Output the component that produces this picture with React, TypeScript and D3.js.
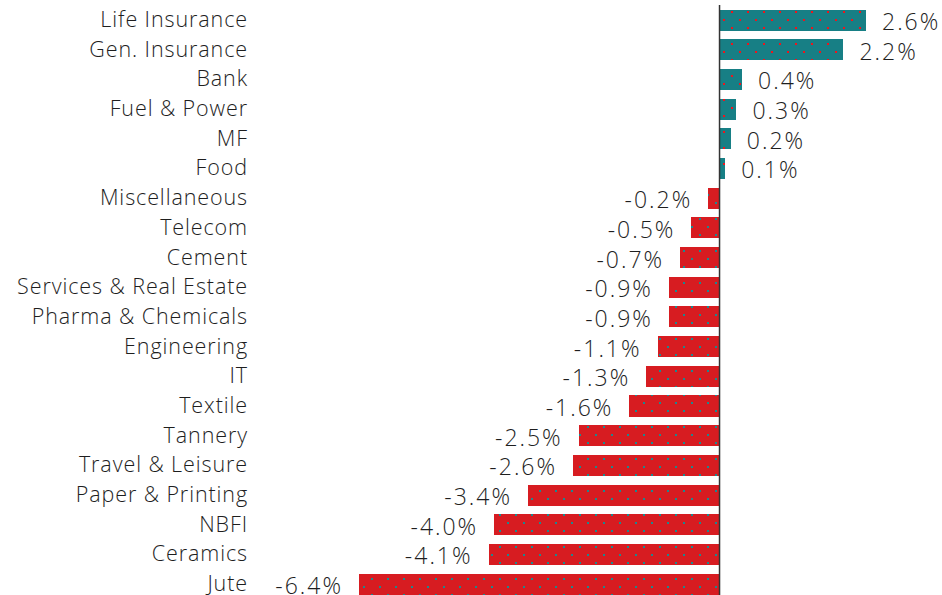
import React from "react";
import * as d3 from "d3";

const categories = [
  "Life Insurance", "Gen. Insurance", "Bank", "Fuel & Power", "MF", "Food",
  "Miscellaneous", "Telecom", "Cement", "Services & Real Estate", "Pharma & Chemicals",
  "Engineering", "IT", "Textile", "Tannery", "Travel & Leisure", "Paper & Printing",
  "NBFI", "Ceramics", "Jute",
];
const values = [
  2.6, 2.2, 0.4, 0.3, 0.2, 0.1, -0.2, -0.5, -0.7, -0.9, -0.9, -1.1, -1.3, -1.6,
  -2.5, -2.6, -3.4, -4.0, -4.1, -6.4,
];
const valueLabels = [
  "2.6%", "2.2%", "0.4%", "0.3%", "0.2%", "0.1%", "-0.2%", "-0.5%", "-0.7%", "-0.9%",
  "-0.9%", "-1.1%", "-1.3%", "-1.6%", "-2.5%", "-2.6%", "-3.4%", "-4.0%", "-4.1%", "-6.4%",
];

const W = 942;
const H = 595;
const TEAL = "#177f85";
const RED = "#d71c21";
const FONT = "'Open Sans', Roboto, sans-serif";

export default function App() {
  const x = d3.scaleLinear().domain([-6.4, 2.6]).range([359, 866]);
  const y = d3
    .scaleBand<string>()
    .domain(categories)
    .range([5.2, 599])
    .paddingInner(0.29)
    .paddingOuter(0.145);
  const x0 = x(0);
  return (
    <svg
      width={W}
      height={H}
      style={{ position: "absolute", left: 0, top: 0, background: "#fff" }}
      fontFamily={FONT}
    >
      <defs>
        <pattern id="dotsTeal" width={16} height={16} patternUnits="userSpaceOnUse">
          <rect width={16} height={16} fill={TEAL} />
          <rect x={3} y={3} width={2} height={2} fill="#f0141c" shapeRendering="crispEdges" />
          <rect x={11} y={11} width={2} height={2} fill="#f0141c" shapeRendering="crispEdges" />
        </pattern>
        <pattern id="dotsRed" width={16} height={16} patternUnits="userSpaceOnUse">
          <rect width={16} height={16} fill={RED} />
          <rect x={3} y={2} width={2} height={2} fill="#1a8a90" shapeRendering="crispEdges" />
          <rect x={11} y={10} width={2} height={2} fill="#1a8a90" shapeRendering="crispEdges" />
        </pattern>
      </defs>
      {categories.map((c, i) => {
        const v = values[i];
        const yy = y(c) as number;
        const bh = y.bandwidth();
        const cy = yy + bh / 2;
        const left = Math.min(x(v), x0);
        const w = Math.abs(x(v) - x0);
        return (
          <g key={c}>
            <rect
              x={left}
              y={yy}
              width={w}
              height={bh}
              fill={v >= 0 ? "url(#dotsTeal)" : "url(#dotsRed)"}
              shapeRendering="crispEdges"
            />
            <text
              x={248}
              y={cy - 1.5}
              textAnchor="end"
              dominantBaseline="central"
              fontSize={21.5}
              fontWeight={300}
              letterSpacing={0.9}
              fill="#1e1e1e"
            >
              {c}
            </text>
            <text
              x={v >= 0 ? x(v) + 16 : x(v) - 16}
              y={cy + 1}
              textAnchor={v >= 0 ? "start" : "end"}
              dominantBaseline="central"
              fontSize={23}
              fontWeight={300}
              letterSpacing={2}
              fill="#1e1e1e"
            >
              {valueLabels[i]}
            </text>
          </g>
        );
      })}
      <line x1={x0} x2={x0} y1={5} y2={H} stroke="#333" strokeWidth={1.5} />
    </svg>
  );
}
